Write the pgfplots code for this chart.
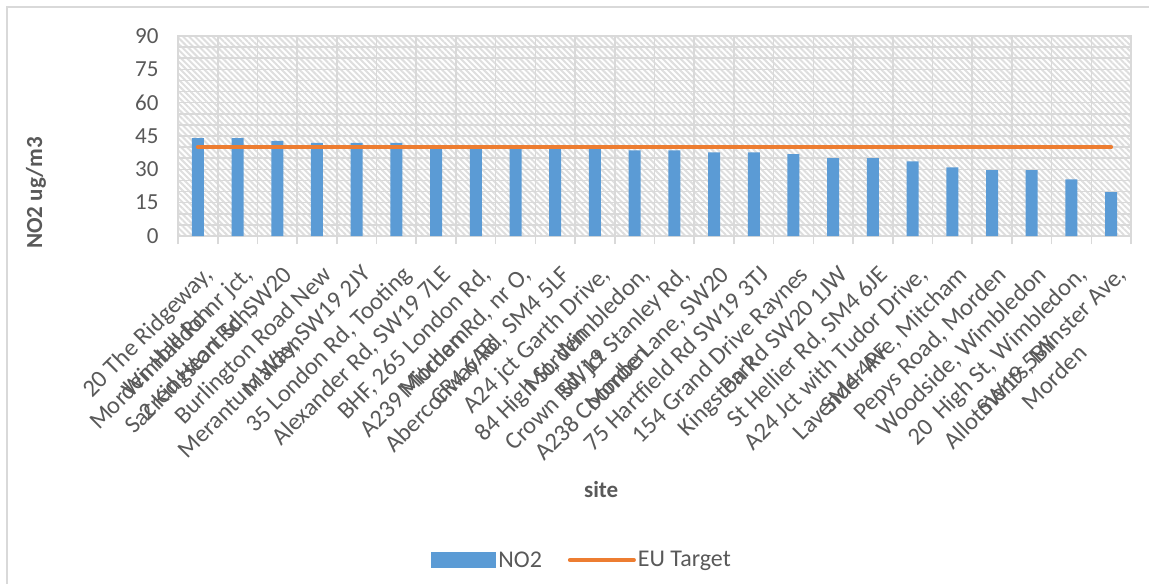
\documentclass[border=0pt]{standalone}
\usepackage{pgfplots}
\pgfplotsset{compat=1.18}
\usepackage{fontspec}
\setmainfont{Carlito}
\usetikzlibrary{patterns.meta}
\definecolor{barblue}{HTML}{5B9BD5}
\definecolor{euorange}{HTML}{ED7D31}
\definecolor{gridgray}{HTML}{D9D9D9}
\definecolor{txtgray}{HTML}{595959}
\definecolor{hatch}{HTML}{DEDEDE}
\begin{document}
\begin{tikzpicture}
\path[use as bounding box] (0bp,0bp) rectangle (1149bp,-584bp);
\draw[gridgray, line width=1.5bp] (7bp,-584bp) -- (7bp,-7bp) -- (1149bp,-7bp);
\begin{axis}[
  at={(178bp,-236bp)}, anchor=south west,
  scale only axis, width=953bp, height=200bp,
  xmin=-0.5, xmax=23.5, ymin=0, ymax=90,
  bar width=12bp,
  axis background/.style={pattern={Lines[angle=-45,distance=4.2bp,line width=2bp]}, pattern color=hatch},
  axis line style={gridgray, line width=1.6bp},
  xmajorgrids=false, xminorgrids=true, ymajorgrids=true, yminorgrids=true,
  major grid style={gridgray, line width=1.6bp},
  minor grid style={gridgray, line width=1.6bp},
  xtick={0,...,23},
  minor xtick={-0.5,0.5,...,23.5},
  ytick={0,15,...,90},
  minor ytick={5,10,...,85},
  tick align=outside, major tick length=0pt, minor tick length=8bp,
  xtick pos=bottom, ytick pos=left,
  xtick style={gridgray, line width=1.6bp},
  ytick style={draw=none},
  /pgf/number format/assume math mode=true,
  yticklabel style={font=\fontsize{23bp}{27bp}\selectfont, text=txtgray, xshift=-16bp},
  xticklabels={
    {20 The Ridgeway,\\Wimbledon},
    {Morden Hall Rd nr jct,\\Sacred Heart Sch,},
    {2 Kingston Rd, SW20},
    {Burlington Road New\\Malden},
    {Merantum Way, SW19 2JY},
    {35 London Rd, Tooting},
    {Alexander Rd, SW19 7LE},
    {BHF, 265 London Rd,\\Mitcham},
    {A239 Morden Rd, nr O,\\CR4 6AB},
    {Aberconway Rd, SM4 5LF},
    {A24 jct Garth Drive,\\Morden},
    {84 High St, Wimbledon,\\SW19},
    {Crown Rd, jct Stanley Rd,\\Morden},
    {A238 Coombe Lane, SW20},
    {75 Hartfield Rd SW19 3TJ},
    {154 Grand Drive Raynes\\Park},
    {Kingston Rd SW20 1JW},
    {St Hellier Rd, SM4 6JE},
    {A24 Jct with Tudor Drive,\\SM4 4PF},
    {Lavender Ave, Mitcham},
    {Pepys Road, Morden},
    {Woodside, Wimbledon},
    {20~ High St, Wimbledon,\\SW19 5BY},
    {Allotments, Minster Ave,\\Morden}},
  xticklabel style={xshift=4bp, yshift=-28bp, rotate=45, anchor=north east, align=center, inner sep=0pt,
    font=\fontsize{24.5bp}{28bp}\selectfont, text=txtgray},
  ylabel={NO2 ug/m3},
  ylabel style={at={(axis description cs:-0.149,0.215)}, anchor=center,
    font=\bfseries\fontsize{23bp}{27bp}\selectfont, text=txtgray},
  xlabel={site},
  xlabel style={at={(axis description cs:0.444,-1.27)}, anchor=center,
    font=\bfseries\fontsize{23bp}{27bp}\selectfont, text=txtgray},
  legend style={at={(axis description cs:0.424,-1.62)}, anchor=center, draw=none, fill=none,
    font=\fontsize{24bp}{28bp}\selectfont, text=txtgray, legend columns=2,
    /tikz/every even column/.append style={column sep=24bp}},
  legend cell align=left,
]
\addplot[ybar, fill=barblue, draw=none,
  legend image code/.code={\fill[barblue] (0bp,-8bp) rectangle (65bp,8bp);}]
  coordinates {
  (0,44.1) (1,44.1) (2,42.8) (3,41.9) (4,41.9) (5,41.9)
  (6,40.2) (7,40.2) (8,40.2) (9,40.2) (10,40.2) (11,38.5)
  (12,38.5) (13,37.6) (14,37.6) (15,36.8) (16,35.0) (17,35.0)
  (18,33.6) (19,30.9) (20,29.6) (21,29.6) (22,25.5) (23,19.7)};
\addlegendentry{NO2}
\addplot[euorange, line width=4bp, line cap=round, mark=none,
  legend image code/.code={\draw[euorange, line width=4bp, line cap=round] (2bp,0bp) -- (66bp,0bp);}]
  coordinates {
  (0,40) (1,40) (2,40) (3,40) (4,40) (5,40) (6,40) (7,40) (8,40) (9,40) (10,40) (11,40)
  (12,40) (13,40) (14,40) (15,40) (16,40) (17,40) (18,40) (19,40) (20,40) (21,40) (22,40) (23,40)};
\addlegendentry{EU Target}
\end{axis}
\end{tikzpicture}
\end{document}
